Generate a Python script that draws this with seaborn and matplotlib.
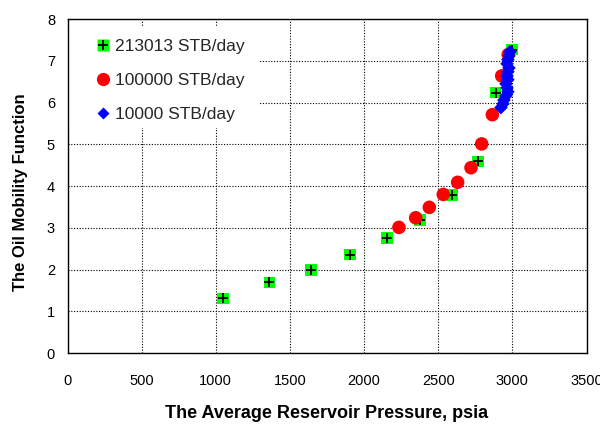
import matplotlib
matplotlib.use("Agg")
import matplotlib.pyplot as plt
from matplotlib.lines import Line2D
from matplotlib.patches import Rectangle
import numpy as np
import pandas as pd
import seaborn as sns

# Rate 213013 STB/day
p_213013 = [1049, 1361, 1642, 1907, 2156, 2377, 2591, 2770, 2887, 2999]
f_213013 = [1.31, 1.69, 1.99, 2.36, 2.76, 3.19, 3.79, 4.59, 6.24, 7.27]

# Rate 100000 STB/day
p_100000 = [2235, 2348, 2440, 2534, 2631, 2721, 2793, 2865, 2928, 2972]
f_100000 = [3.01, 3.24, 3.49, 3.80, 4.09, 4.44, 5.01, 5.71, 6.64, 7.15]

# Rate 10000 STB/day
p_10000 = [2984, 2977, 2970, 2964, 2977, 2970, 2964, 2970, 2957, 2964,
           2970, 2957, 2943, 2937, 2923]
f_10000 = [7.22, 7.12, 7.03, 6.93, 6.83, 6.74, 6.64, 6.55, 6.45, 6.35,
           6.26, 6.16, 6.06, 5.97, 5.88]

labels = ["213013 STB/day", "100000 STB/day", "10000 STB/day"]

df = pd.concat([
    pd.DataFrame({"p": p_213013, "f": f_213013, "rate": labels[0]}),
    pd.DataFrame({"p": p_100000, "f": f_100000, "rate": labels[1]}),
    pd.DataFrame({"p": p_10000, "f": f_10000, "rate": labels[2]}),
])

sns.set_theme(style="white")
plt.rcParams["font.family"] = ["Liberation Sans", "DejaVu Sans"]

fig = plt.figure(figsize=(6, 4.25), dpi=100)
ax = fig.add_axes([0.1125, 0.1694, 0.865, 0.7856])

green = "#00ff00"
red = "#ff0000"
blue = "#0000ff"

d0 = df[df.rate == labels[0]]
d1 = df[df.rate == labels[1]]
d2 = df[df.rate == labels[2]]

sns.scatterplot(data=d0, x="p", y="f", marker="s", s=70, color=green,
                edgecolor="none", linewidth=0, ax=ax, zorder=3, legend=False)
sns.scatterplot(data=d0, x="p", y="f", marker="+", s=55, color="black",
                linewidth=1.3, ax=ax, zorder=4, legend=False)
sns.scatterplot(data=d1, x="p", y="f", marker="o", s=95, color=red,
                edgecolor="none", linewidth=0, ax=ax, zorder=5, legend=False)
sns.scatterplot(data=d2, x="p", y="f", marker="D", s=48, color=blue,
                edgecolor="none", linewidth=0, ax=ax, zorder=6, legend=False)

ax.set_xlim(0, 3500)
ax.set_ylim(0, 8)
ax.set_xticks(np.arange(0, 3501, 500))
ax.set_yticks(np.arange(0, 9, 1))
ax.grid(True, color="black", linestyle=(0, (1, 1.5)), linewidth=0.8)
ax.set_axisbelow(True)
for sp in ax.spines.values():
    sp.set_color("black")
    sp.set_linewidth(1.0)
ax.tick_params(axis="both", labelsize=10.5, colors="black", direction="in",
               length=4, width=0.8)
ax.tick_params(axis="x", pad=15)
ax.tick_params(axis="y", pad=9)

ax.set_xlabel("The Average Reservoir Pressure, psia", fontsize=13,
              fontweight="bold", labelpad=12, color="black")
ax.set_ylabel("The Oil Mobility Function", fontsize=12,
              fontweight="bold", color="black")
ax.yaxis.set_label_coords(-0.076, 0.4825)

# white panel behind the legend entries
ax.add_patch(Rectangle((0.0, 0.674), 0.371, 0.302, transform=ax.transAxes,
                       facecolor="white", edgecolor="none", zorder=2))

h0 = (Line2D([], [], marker="s", linestyle="none", markersize=8.3,
             markerfacecolor=green, markeredgecolor="none"),
      Line2D([], [], marker="+", linestyle="none", markersize=7.4,
             color="black", markeredgewidth=1.3))
h1 = Line2D([], [], marker="o", linestyle="none", markersize=9.5,
            markerfacecolor=red, markeredgecolor="none")
h2 = Line2D([], [], marker="D", linestyle="none", markersize=6.6,
            markerfacecolor=blue, markeredgecolor="none")
leg = ax.legend([h0, h1, h2], labels, loc="upper left",
                bbox_to_anchor=(0.0516, 0.94), fontsize=12.5, frameon=False,
                labelspacing=1.065, handlelength=1.0, handletextpad=0.2,
                borderpad=0, borderaxespad=0)
leg.set_zorder(10)

fig.savefig("out.png", dpi=100)
